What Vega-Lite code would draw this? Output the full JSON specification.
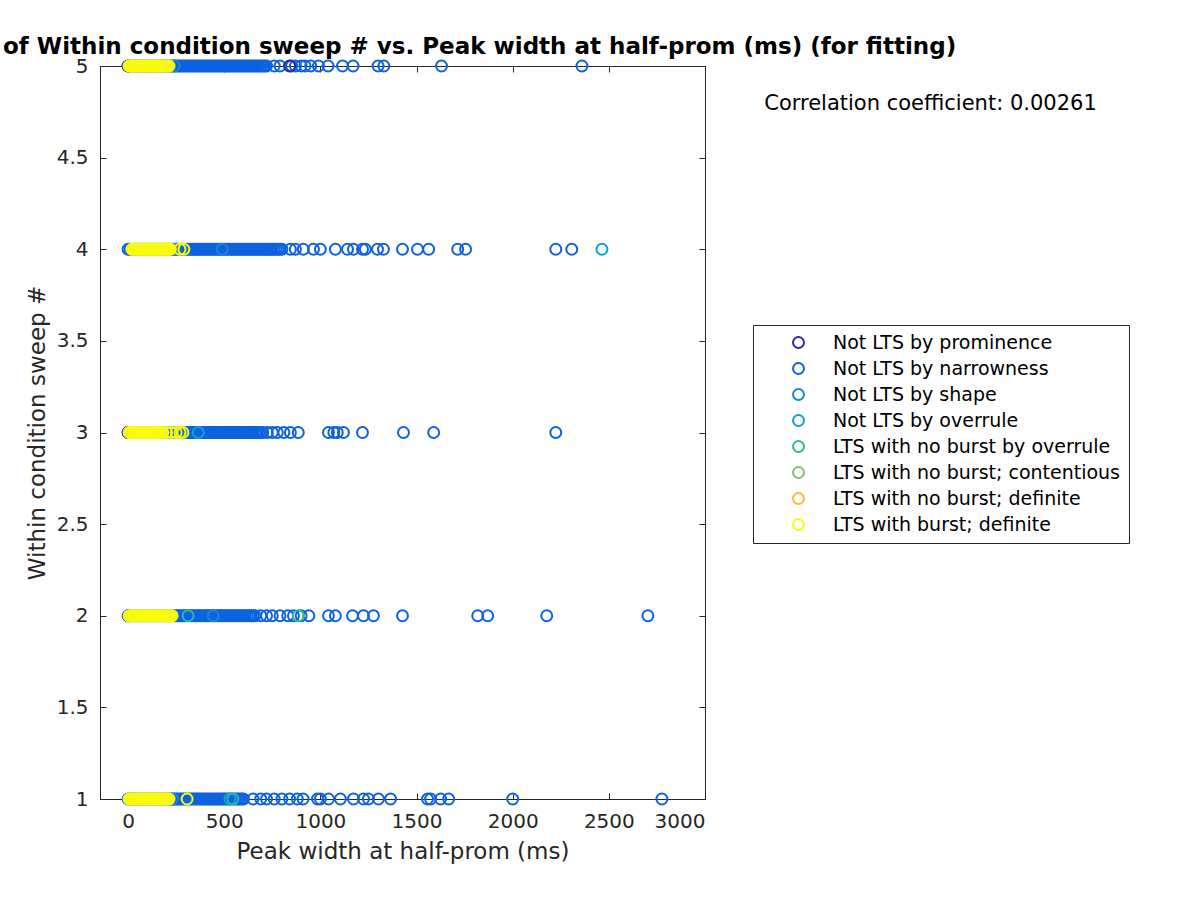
{
  "$schema": "https://vega.github.io/schema/vega-lite/v6.json",
  "width": 605,
  "height": 733,
  "autosize": {"type": "none"},
  "padding": {"left": 100, "top": 66, "right": 495, "bottom": 101},
  "background": "white",
  "config": {
    "view": {"stroke": "#262626", "strokeWidth": 1},
    "font": "DejaVu Sans",
    "axis": {"grid": false, "domainColor": "#262626", "tickColor": "#262626", "labelColor": "#262626", "titleColor": "#262626", "labelFont": "DejaVu Sans", "titleFont": "DejaVu Sans", "titleFontWeight": "normal"}
  },
  "title": {"text": "of Within condition sweep # vs. Peak width at half-prom (ms) (for fitting)", "anchor": "start", "frame": "group", "dx": -97, "offset": 11, "dy": 32, "baseline": "alphabetic", "fontSize": 23, "font": "DejaVu Sans", "fontWeight": "bold", "color": "black"},
  "datasets": {
    "classes": [
      {"code": "P", "label": "Not LTS by prominence"},
      {"code": "N", "label": "Not LTS by narrowness"},
      {"code": "S", "label": "Not LTS by shape"},
      {"code": "O", "label": "Not LTS by overrule"},
      {"code": "LO", "label": "LTS with no burst by overrule"},
      {"code": "LC", "label": "LTS with no burst; contentious"},
      {"code": "LD", "label": "LTS with no burst; definite"},
      {"code": "LB", "label": "LTS with burst; definite"}
    ],
    "peaks": [
      {"width":0,"sweep":5,"type":"N"},{"width":10,"sweep":5,"type":"N"},{"width":20,"sweep":5,"type":"N"},{"width":30,"sweep":5,"type":"N"},{"width":40,"sweep":5,"type":"N"},{"width":50,"sweep":5,"type":"N"},{"width":60,"sweep":5,"type":"N"},{"width":70,"sweep":5,"type":"N"},{"width":80,"sweep":5,"type":"N"},{"width":90,"sweep":5,"type":"N"},
      {"width":100,"sweep":5,"type":"N"},{"width":110,"sweep":5,"type":"N"},{"width":120,"sweep":5,"type":"N"},{"width":130,"sweep":5,"type":"N"},{"width":140,"sweep":5,"type":"N"},{"width":150,"sweep":5,"type":"N"},{"width":160,"sweep":5,"type":"N"},{"width":170,"sweep":5,"type":"N"},{"width":180,"sweep":5,"type":"N"},{"width":190,"sweep":5,"type":"N"},
      {"width":200,"sweep":5,"type":"N"},{"width":210,"sweep":5,"type":"N"},{"width":220,"sweep":5,"type":"N"},{"width":230,"sweep":5,"type":"N"},{"width":240,"sweep":5,"type":"N"},{"width":250,"sweep":5,"type":"N"},{"width":260,"sweep":5,"type":"N"},{"width":270,"sweep":5,"type":"N"},{"width":280,"sweep":5,"type":"N"},{"width":290,"sweep":5,"type":"N"},
      {"width":300,"sweep":5,"type":"N"},{"width":310,"sweep":5,"type":"N"},{"width":320,"sweep":5,"type":"N"},{"width":330,"sweep":5,"type":"N"},{"width":340,"sweep":5,"type":"N"},{"width":350,"sweep":5,"type":"N"},{"width":360,"sweep":5,"type":"N"},{"width":370,"sweep":5,"type":"N"},{"width":380,"sweep":5,"type":"N"},{"width":390,"sweep":5,"type":"N"},
      {"width":400,"sweep":5,"type":"N"},{"width":410,"sweep":5,"type":"N"},{"width":420,"sweep":5,"type":"N"},{"width":430,"sweep":5,"type":"N"},{"width":440,"sweep":5,"type":"N"},{"width":450,"sweep":5,"type":"N"},{"width":460,"sweep":5,"type":"N"},{"width":470,"sweep":5,"type":"N"},{"width":480,"sweep":5,"type":"N"},{"width":490,"sweep":5,"type":"N"},
      {"width":500,"sweep":5,"type":"N"},{"width":510,"sweep":5,"type":"N"},{"width":520,"sweep":5,"type":"N"},{"width":530,"sweep":5,"type":"N"},{"width":540,"sweep":5,"type":"N"},{"width":550,"sweep":5,"type":"N"},{"width":560,"sweep":5,"type":"N"},{"width":570,"sweep":5,"type":"N"},{"width":580,"sweep":5,"type":"N"},{"width":590,"sweep":5,"type":"N"},
      {"width":600,"sweep":5,"type":"N"},{"width":610,"sweep":5,"type":"N"},{"width":620,"sweep":5,"type":"N"},{"width":630,"sweep":5,"type":"N"},{"width":640,"sweep":5,"type":"N"},{"width":650,"sweep":5,"type":"N"},{"width":660,"sweep":5,"type":"N"},{"width":670,"sweep":5,"type":"N"},{"width":680,"sweep":5,"type":"N"},{"width":690,"sweep":5,"type":"N"},
      {"width":700,"sweep":5,"type":"N"},{"width":710,"sweep":5,"type":"N"},{"width":720,"sweep":5,"type":"N"},
      {"width":760,"sweep":5,"type":"N"},{"width":790,"sweep":5,"type":"N"},{"width":850,"sweep":5,"type":"N"},{"width":870,"sweep":5,"type":"N"},{"width":900,"sweep":5,"type":"N"},{"width":920,"sweep":5,"type":"N"},{"width":950,"sweep":5,"type":"N"},{"width":990,"sweep":5,"type":"N"},{"width":1040,"sweep":5,"type":"N"},{"width":1115,"sweep":5,"type":"N"},{"width":1170,"sweep":5,"type":"N"},{"width":1300,"sweep":5,"type":"N"},{"width":1330,"sweep":5,"type":"N"},{"width":1630,"sweep":5,"type":"N"},{"width":2360,"sweep":5,"type":"N"},
      {"width":0,"sweep":4,"type":"N"},{"width":10,"sweep":4,"type":"N"},{"width":20,"sweep":4,"type":"N"},{"width":30,"sweep":4,"type":"N"},{"width":40,"sweep":4,"type":"N"},{"width":50,"sweep":4,"type":"N"},{"width":60,"sweep":4,"type":"N"},{"width":70,"sweep":4,"type":"N"},{"width":80,"sweep":4,"type":"N"},{"width":90,"sweep":4,"type":"N"},
      {"width":100,"sweep":4,"type":"N"},{"width":110,"sweep":4,"type":"N"},{"width":120,"sweep":4,"type":"N"},{"width":130,"sweep":4,"type":"N"},{"width":140,"sweep":4,"type":"N"},{"width":150,"sweep":4,"type":"N"},{"width":160,"sweep":4,"type":"N"},{"width":170,"sweep":4,"type":"N"},{"width":180,"sweep":4,"type":"N"},{"width":190,"sweep":4,"type":"N"},
      {"width":200,"sweep":4,"type":"N"},{"width":210,"sweep":4,"type":"N"},{"width":220,"sweep":4,"type":"N"},{"width":230,"sweep":4,"type":"N"},{"width":240,"sweep":4,"type":"N"},{"width":250,"sweep":4,"type":"N"},{"width":260,"sweep":4,"type":"N"},{"width":270,"sweep":4,"type":"N"},{"width":280,"sweep":4,"type":"N"},{"width":290,"sweep":4,"type":"N"},
      {"width":300,"sweep":4,"type":"N"},{"width":310,"sweep":4,"type":"N"},{"width":320,"sweep":4,"type":"N"},{"width":330,"sweep":4,"type":"N"},{"width":340,"sweep":4,"type":"N"},{"width":350,"sweep":4,"type":"N"},{"width":360,"sweep":4,"type":"N"},{"width":370,"sweep":4,"type":"N"},{"width":380,"sweep":4,"type":"N"},{"width":390,"sweep":4,"type":"N"},
      {"width":400,"sweep":4,"type":"N"},{"width":410,"sweep":4,"type":"N"},{"width":420,"sweep":4,"type":"N"},{"width":430,"sweep":4,"type":"N"},{"width":440,"sweep":4,"type":"N"},{"width":450,"sweep":4,"type":"N"},{"width":460,"sweep":4,"type":"N"},{"width":470,"sweep":4,"type":"N"},{"width":480,"sweep":4,"type":"N"},{"width":490,"sweep":4,"type":"N"},
      {"width":500,"sweep":4,"type":"N"},{"width":510,"sweep":4,"type":"N"},{"width":520,"sweep":4,"type":"N"},{"width":530,"sweep":4,"type":"N"},{"width":540,"sweep":4,"type":"N"},{"width":550,"sweep":4,"type":"N"},{"width":560,"sweep":4,"type":"N"},{"width":570,"sweep":4,"type":"N"},{"width":580,"sweep":4,"type":"N"},{"width":590,"sweep":4,"type":"N"},
      {"width":600,"sweep":4,"type":"N"},{"width":610,"sweep":4,"type":"N"},{"width":620,"sweep":4,"type":"N"},{"width":630,"sweep":4,"type":"N"},{"width":640,"sweep":4,"type":"N"},{"width":650,"sweep":4,"type":"N"},{"width":660,"sweep":4,"type":"N"},{"width":670,"sweep":4,"type":"N"},{"width":680,"sweep":4,"type":"N"},{"width":690,"sweep":4,"type":"N"},
      {"width":700,"sweep":4,"type":"N"},{"width":710,"sweep":4,"type":"N"},{"width":720,"sweep":4,"type":"N"},{"width":730,"sweep":4,"type":"N"},{"width":740,"sweep":4,"type":"N"},{"width":750,"sweep":4,"type":"N"},{"width":760,"sweep":4,"type":"N"},{"width":770,"sweep":4,"type":"N"},{"width":780,"sweep":4,"type":"N"},{"width":790,"sweep":4,"type":"N"},{"width":800,"sweep":4,"type":"N"},
      {"width":844,"sweep":4,"type":"N"},{"width":870,"sweep":4,"type":"N"},{"width":911,"sweep":4,"type":"N"},{"width":964,"sweep":4,"type":"N"},{"width":1000,"sweep":4,"type":"N"},{"width":1078,"sweep":4,"type":"N"},{"width":1141,"sweep":4,"type":"N"},{"width":1172,"sweep":4,"type":"N"},{"width":1219,"sweep":4,"type":"N"},{"width":1234,"sweep":4,"type":"N"},{"width":1297,"sweep":4,"type":"N"},{"width":1328,"sweep":4,"type":"N"},{"width":1427,"sweep":4,"type":"N"},{"width":1505,"sweep":4,"type":"N"},{"width":1563,"sweep":4,"type":"N"},{"width":1714,"sweep":4,"type":"N"},{"width":1755,"sweep":4,"type":"N"},{"width":2224,"sweep":4,"type":"N"},{"width":2307,"sweep":4,"type":"N"},
      {"width":0,"sweep":3,"type":"N"},{"width":10,"sweep":3,"type":"N"},{"width":20,"sweep":3,"type":"N"},{"width":30,"sweep":3,"type":"N"},{"width":40,"sweep":3,"type":"N"},{"width":50,"sweep":3,"type":"N"},{"width":60,"sweep":3,"type":"N"},{"width":70,"sweep":3,"type":"N"},{"width":80,"sweep":3,"type":"N"},{"width":90,"sweep":3,"type":"N"},
      {"width":100,"sweep":3,"type":"N"},{"width":110,"sweep":3,"type":"N"},{"width":120,"sweep":3,"type":"N"},{"width":130,"sweep":3,"type":"N"},{"width":140,"sweep":3,"type":"N"},{"width":150,"sweep":3,"type":"N"},{"width":160,"sweep":3,"type":"N"},{"width":170,"sweep":3,"type":"N"},{"width":180,"sweep":3,"type":"N"},{"width":190,"sweep":3,"type":"N"},
      {"width":200,"sweep":3,"type":"N"},{"width":210,"sweep":3,"type":"N"},{"width":220,"sweep":3,"type":"N"},{"width":230,"sweep":3,"type":"N"},{"width":240,"sweep":3,"type":"N"},{"width":250,"sweep":3,"type":"N"},{"width":260,"sweep":3,"type":"N"},{"width":270,"sweep":3,"type":"N"},{"width":280,"sweep":3,"type":"N"},{"width":290,"sweep":3,"type":"N"},
      {"width":300,"sweep":3,"type":"N"},{"width":310,"sweep":3,"type":"N"},{"width":320,"sweep":3,"type":"N"},{"width":330,"sweep":3,"type":"N"},{"width":340,"sweep":3,"type":"N"},{"width":350,"sweep":3,"type":"N"},{"width":360,"sweep":3,"type":"N"},{"width":370,"sweep":3,"type":"N"},{"width":380,"sweep":3,"type":"N"},{"width":390,"sweep":3,"type":"N"},
      {"width":400,"sweep":3,"type":"N"},{"width":410,"sweep":3,"type":"N"},{"width":420,"sweep":3,"type":"N"},{"width":430,"sweep":3,"type":"N"},{"width":440,"sweep":3,"type":"N"},{"width":450,"sweep":3,"type":"N"},{"width":460,"sweep":3,"type":"N"},{"width":470,"sweep":3,"type":"N"},{"width":480,"sweep":3,"type":"N"},{"width":490,"sweep":3,"type":"N"},
      {"width":500,"sweep":3,"type":"N"},{"width":510,"sweep":3,"type":"N"},{"width":520,"sweep":3,"type":"N"},{"width":530,"sweep":3,"type":"N"},{"width":540,"sweep":3,"type":"N"},{"width":550,"sweep":3,"type":"N"},{"width":560,"sweep":3,"type":"N"},{"width":570,"sweep":3,"type":"N"},{"width":580,"sweep":3,"type":"N"},{"width":590,"sweep":3,"type":"N"},
      {"width":600,"sweep":3,"type":"N"},{"width":610,"sweep":3,"type":"N"},{"width":620,"sweep":3,"type":"N"},{"width":630,"sweep":3,"type":"N"},{"width":640,"sweep":3,"type":"N"},{"width":650,"sweep":3,"type":"N"},{"width":660,"sweep":3,"type":"N"},{"width":670,"sweep":3,"type":"N"},{"width":680,"sweep":3,"type":"N"},{"width":690,"sweep":3,"type":"N"},{"width":700,"sweep":3,"type":"N"},
      {"width":724,"sweep":3,"type":"N"},{"width":750,"sweep":3,"type":"N"},{"width":776,"sweep":3,"type":"N"},{"width":810,"sweep":3,"type":"N"},{"width":844,"sweep":3,"type":"N"},{"width":885,"sweep":3,"type":"N"},{"width":1042,"sweep":3,"type":"N"},{"width":1070,"sweep":3,"type":"N"},{"width":1088,"sweep":3,"type":"N"},{"width":1120,"sweep":3,"type":"N"},{"width":1219,"sweep":3,"type":"N"},{"width":1432,"sweep":3,"type":"N"},{"width":1589,"sweep":3,"type":"N"},{"width":2224,"sweep":3,"type":"N"},
      {"width":0,"sweep":2,"type":"N"},{"width":10,"sweep":2,"type":"N"},{"width":20,"sweep":2,"type":"N"},{"width":30,"sweep":2,"type":"N"},{"width":40,"sweep":2,"type":"N"},{"width":50,"sweep":2,"type":"N"},{"width":60,"sweep":2,"type":"N"},{"width":70,"sweep":2,"type":"N"},{"width":80,"sweep":2,"type":"N"},{"width":90,"sweep":2,"type":"N"},
      {"width":100,"sweep":2,"type":"N"},{"width":110,"sweep":2,"type":"N"},{"width":120,"sweep":2,"type":"N"},{"width":130,"sweep":2,"type":"N"},{"width":140,"sweep":2,"type":"N"},{"width":150,"sweep":2,"type":"N"},{"width":160,"sweep":2,"type":"N"},{"width":170,"sweep":2,"type":"N"},{"width":180,"sweep":2,"type":"N"},{"width":190,"sweep":2,"type":"N"},
      {"width":200,"sweep":2,"type":"N"},{"width":210,"sweep":2,"type":"N"},{"width":220,"sweep":2,"type":"N"},{"width":230,"sweep":2,"type":"N"},{"width":240,"sweep":2,"type":"N"},{"width":250,"sweep":2,"type":"N"},{"width":260,"sweep":2,"type":"N"},{"width":270,"sweep":2,"type":"N"},{"width":280,"sweep":2,"type":"N"},{"width":290,"sweep":2,"type":"N"},
      {"width":300,"sweep":2,"type":"N"},{"width":310,"sweep":2,"type":"N"},{"width":320,"sweep":2,"type":"N"},{"width":330,"sweep":2,"type":"N"},{"width":340,"sweep":2,"type":"N"},{"width":350,"sweep":2,"type":"N"},{"width":360,"sweep":2,"type":"N"},{"width":370,"sweep":2,"type":"N"},{"width":380,"sweep":2,"type":"N"},{"width":390,"sweep":2,"type":"N"},
      {"width":400,"sweep":2,"type":"N"},{"width":410,"sweep":2,"type":"N"},{"width":420,"sweep":2,"type":"N"},{"width":430,"sweep":2,"type":"N"},{"width":440,"sweep":2,"type":"N"},{"width":450,"sweep":2,"type":"N"},{"width":460,"sweep":2,"type":"N"},{"width":470,"sweep":2,"type":"N"},{"width":480,"sweep":2,"type":"N"},{"width":490,"sweep":2,"type":"N"},
      {"width":500,"sweep":2,"type":"N"},{"width":510,"sweep":2,"type":"N"},{"width":520,"sweep":2,"type":"N"},{"width":530,"sweep":2,"type":"N"},{"width":540,"sweep":2,"type":"N"},{"width":550,"sweep":2,"type":"N"},{"width":560,"sweep":2,"type":"N"},{"width":570,"sweep":2,"type":"N"},{"width":580,"sweep":2,"type":"N"},{"width":590,"sweep":2,"type":"N"},
      {"width":600,"sweep":2,"type":"N"},{"width":610,"sweep":2,"type":"N"},{"width":620,"sweep":2,"type":"N"},{"width":630,"sweep":2,"type":"N"},{"width":640,"sweep":2,"type":"N"},{"width":650,"sweep":2,"type":"N"},{"width":660,"sweep":2,"type":"N"},
      {"width":690,"sweep":2,"type":"N"},{"width":720,"sweep":2,"type":"N"},{"width":750,"sweep":2,"type":"N"},{"width":790,"sweep":2,"type":"N"},{"width":830,"sweep":2,"type":"N"},{"width":860,"sweep":2,"type":"N"},{"width":900,"sweep":2,"type":"N"},{"width":940,"sweep":2,"type":"N"},{"width":1042,"sweep":2,"type":"N"},{"width":1078,"sweep":2,"type":"N"},{"width":1167,"sweep":2,"type":"N"},{"width":1224,"sweep":2,"type":"N"},{"width":1276,"sweep":2,"type":"N"},{"width":1427,"sweep":2,"type":"N"},{"width":1818,"sweep":2,"type":"N"},{"width":1870,"sweep":2,"type":"N"},{"width":2177,"sweep":2,"type":"N"},{"width":2703,"sweep":2,"type":"N"},
      {"width":0,"sweep":1,"type":"N"},{"width":10,"sweep":1,"type":"N"},{"width":20,"sweep":1,"type":"N"},{"width":30,"sweep":1,"type":"N"},{"width":40,"sweep":1,"type":"N"},{"width":50,"sweep":1,"type":"N"},{"width":60,"sweep":1,"type":"N"},{"width":70,"sweep":1,"type":"N"},{"width":80,"sweep":1,"type":"N"},{"width":90,"sweep":1,"type":"N"},
      {"width":100,"sweep":1,"type":"N"},{"width":110,"sweep":1,"type":"N"},{"width":120,"sweep":1,"type":"N"},{"width":130,"sweep":1,"type":"N"},{"width":140,"sweep":1,"type":"N"},{"width":150,"sweep":1,"type":"N"},{"width":160,"sweep":1,"type":"N"},{"width":170,"sweep":1,"type":"N"},{"width":180,"sweep":1,"type":"N"},{"width":190,"sweep":1,"type":"N"},
      {"width":200,"sweep":1,"type":"N"},{"width":210,"sweep":1,"type":"N"},{"width":220,"sweep":1,"type":"N"},{"width":230,"sweep":1,"type":"N"},{"width":240,"sweep":1,"type":"N"},{"width":250,"sweep":1,"type":"N"},{"width":260,"sweep":1,"type":"N"},{"width":270,"sweep":1,"type":"N"},{"width":280,"sweep":1,"type":"N"},{"width":290,"sweep":1,"type":"N"},
      {"width":300,"sweep":1,"type":"N"},{"width":310,"sweep":1,"type":"N"},{"width":320,"sweep":1,"type":"N"},{"width":330,"sweep":1,"type":"N"},{"width":340,"sweep":1,"type":"N"},{"width":350,"sweep":1,"type":"N"},{"width":360,"sweep":1,"type":"N"},{"width":370,"sweep":1,"type":"N"},{"width":380,"sweep":1,"type":"N"},{"width":390,"sweep":1,"type":"N"},
      {"width":400,"sweep":1,"type":"N"},{"width":410,"sweep":1,"type":"N"},{"width":420,"sweep":1,"type":"N"},{"width":430,"sweep":1,"type":"N"},{"width":440,"sweep":1,"type":"N"},{"width":450,"sweep":1,"type":"N"},{"width":460,"sweep":1,"type":"N"},{"width":470,"sweep":1,"type":"N"},{"width":480,"sweep":1,"type":"N"},{"width":490,"sweep":1,"type":"N"},
      {"width":500,"sweep":1,"type":"N"},{"width":510,"sweep":1,"type":"N"},{"width":520,"sweep":1,"type":"N"},{"width":530,"sweep":1,"type":"N"},{"width":540,"sweep":1,"type":"N"},{"width":550,"sweep":1,"type":"N"},{"width":560,"sweep":1,"type":"N"},{"width":570,"sweep":1,"type":"N"},{"width":580,"sweep":1,"type":"N"},{"width":590,"sweep":1,"type":"N"},{"width":600,"sweep":1,"type":"N"},
      {"width":650,"sweep":1,"type":"N"},{"width":690,"sweep":1,"type":"N"},{"width":720,"sweep":1,"type":"N"},{"width":760,"sweep":1,"type":"N"},{"width":800,"sweep":1,"type":"N"},{"width":840,"sweep":1,"type":"N"},{"width":880,"sweep":1,"type":"N"},{"width":910,"sweep":1,"type":"N"},{"width":985,"sweep":1,"type":"N"},{"width":1000,"sweep":1,"type":"N"},{"width":1042,"sweep":1,"type":"N"},{"width":1104,"sweep":1,"type":"N"},{"width":1172,"sweep":1,"type":"N"},{"width":1224,"sweep":1,"type":"N"},{"width":1250,"sweep":1,"type":"N"},{"width":1302,"sweep":1,"type":"N"},{"width":1365,"sweep":1,"type":"N"},{"width":1557,"sweep":1,"type":"N"},{"width":1573,"sweep":1,"type":"N"},{"width":1625,"sweep":1,"type":"N"},{"width":1667,"sweep":1,"type":"N"},{"width":2000,"sweep":1,"type":"N"},{"width":2776,"sweep":1,"type":"N"},
      {"width":0,"sweep":5,"type":"P"},{"width":840,"sweep":5,"type":"P"},{"width":0,"sweep":3,"type":"P"},{"width":3,"sweep":2,"type":"P"},
      {"width":190,"sweep":5,"type":"S"},{"width":240,"sweep":5,"type":"S"},{"width":490,"sweep":4,"type":"S"},{"width":240,"sweep":4,"type":"S"},{"width":225,"sweep":3,"type":"S"},{"width":250,"sweep":3,"type":"S"},{"width":270,"sweep":3,"type":"S"},{"width":443,"sweep":2,"type":"S"},{"width":230,"sweep":1,"type":"S"},
      {"width":2464,"sweep":4,"type":"O"},{"width":365,"sweep":3,"type":"O"},{"width":530,"sweep":1,"type":"O"},
      {"width":312,"sweep":2,"type":"LO"},{"width":885,"sweep":2,"type":"LO"},{"width":545,"sweep":1,"type":"LO"},
      {"width":5,"sweep":5,"type":"LB"},{"width":13,"sweep":5,"type":"LB"},{"width":21,"sweep":5,"type":"LB"},{"width":29,"sweep":5,"type":"LB"},{"width":37,"sweep":5,"type":"LB"},{"width":45,"sweep":5,"type":"LB"},{"width":53,"sweep":5,"type":"LB"},{"width":61,"sweep":5,"type":"LB"},{"width":69,"sweep":5,"type":"LB"},{"width":77,"sweep":5,"type":"LB"},{"width":85,"sweep":5,"type":"LB"},{"width":93,"sweep":5,"type":"LB"},{"width":101,"sweep":5,"type":"LB"},{"width":109,"sweep":5,"type":"LB"},{"width":117,"sweep":5,"type":"LB"},{"width":125,"sweep":5,"type":"LB"},{"width":133,"sweep":5,"type":"LB"},{"width":141,"sweep":5,"type":"LB"},{"width":149,"sweep":5,"type":"LB"},{"width":157,"sweep":5,"type":"LB"},{"width":165,"sweep":5,"type":"LB"},{"width":173,"sweep":5,"type":"LB"},{"width":181,"sweep":5,"type":"LB"},{"width":189,"sweep":5,"type":"LB"},{"width":197,"sweep":5,"type":"LB"},{"width":205,"sweep":5,"type":"LB"},{"width":213,"sweep":5,"type":"LB"},
      {"width":20,"sweep":4,"type":"LB"},{"width":28,"sweep":4,"type":"LB"},{"width":36,"sweep":4,"type":"LB"},{"width":44,"sweep":4,"type":"LB"},{"width":52,"sweep":4,"type":"LB"},{"width":60,"sweep":4,"type":"LB"},{"width":68,"sweep":4,"type":"LB"},{"width":76,"sweep":4,"type":"LB"},{"width":84,"sweep":4,"type":"LB"},{"width":92,"sweep":4,"type":"LB"},{"width":100,"sweep":4,"type":"LB"},{"width":108,"sweep":4,"type":"LB"},{"width":116,"sweep":4,"type":"LB"},{"width":124,"sweep":4,"type":"LB"},{"width":132,"sweep":4,"type":"LB"},{"width":140,"sweep":4,"type":"LB"},{"width":148,"sweep":4,"type":"LB"},{"width":156,"sweep":4,"type":"LB"},{"width":164,"sweep":4,"type":"LB"},{"width":172,"sweep":4,"type":"LB"},{"width":180,"sweep":4,"type":"LB"},{"width":188,"sweep":4,"type":"LB"},{"width":196,"sweep":4,"type":"LB"},{"width":204,"sweep":4,"type":"LB"},{"width":212,"sweep":4,"type":"LB"},{"width":220,"sweep":4,"type":"LB"},{"width":270,"sweep":4,"type":"LB"},{"width":290,"sweep":4,"type":"LB"},
      {"width":5,"sweep":3,"type":"LB"},{"width":13,"sweep":3,"type":"LB"},{"width":21,"sweep":3,"type":"LB"},{"width":29,"sweep":3,"type":"LB"},{"width":37,"sweep":3,"type":"LB"},{"width":45,"sweep":3,"type":"LB"},{"width":53,"sweep":3,"type":"LB"},{"width":61,"sweep":3,"type":"LB"},{"width":69,"sweep":3,"type":"LB"},{"width":77,"sweep":3,"type":"LB"},{"width":85,"sweep":3,"type":"LB"},{"width":93,"sweep":3,"type":"LB"},{"width":101,"sweep":3,"type":"LB"},{"width":109,"sweep":3,"type":"LB"},{"width":117,"sweep":3,"type":"LB"},{"width":125,"sweep":3,"type":"LB"},{"width":133,"sweep":3,"type":"LB"},{"width":141,"sweep":3,"type":"LB"},{"width":149,"sweep":3,"type":"LB"},{"width":157,"sweep":3,"type":"LB"},{"width":165,"sweep":3,"type":"LB"},{"width":173,"sweep":3,"type":"LB"},{"width":181,"sweep":3,"type":"LB"},{"width":200,"sweep":3,"type":"LB"},{"width":225,"sweep":3,"type":"LB"},{"width":250,"sweep":3,"type":"LB"},{"width":270,"sweep":3,"type":"LB"},{"width":285,"sweep":3,"type":"LB"},
      {"width":5,"sweep":2,"type":"LB"},{"width":13,"sweep":2,"type":"LB"},{"width":21,"sweep":2,"type":"LB"},{"width":29,"sweep":2,"type":"LB"},{"width":37,"sweep":2,"type":"LB"},{"width":45,"sweep":2,"type":"LB"},{"width":53,"sweep":2,"type":"LB"},{"width":61,"sweep":2,"type":"LB"},{"width":69,"sweep":2,"type":"LB"},{"width":77,"sweep":2,"type":"LB"},{"width":85,"sweep":2,"type":"LB"},{"width":93,"sweep":2,"type":"LB"},{"width":101,"sweep":2,"type":"LB"},{"width":109,"sweep":2,"type":"LB"},{"width":117,"sweep":2,"type":"LB"},{"width":125,"sweep":2,"type":"LB"},{"width":133,"sweep":2,"type":"LB"},{"width":141,"sweep":2,"type":"LB"},{"width":149,"sweep":2,"type":"LB"},{"width":157,"sweep":2,"type":"LB"},{"width":165,"sweep":2,"type":"LB"},{"width":173,"sweep":2,"type":"LB"},{"width":181,"sweep":2,"type":"LB"},{"width":189,"sweep":2,"type":"LB"},{"width":197,"sweep":2,"type":"LB"},{"width":205,"sweep":2,"type":"LB"},{"width":213,"sweep":2,"type":"LB"},{"width":221,"sweep":2,"type":"LB"},{"width":229,"sweep":2,"type":"LB"},
      {"width":5,"sweep":1,"type":"LB"},{"width":13,"sweep":1,"type":"LB"},{"width":21,"sweep":1,"type":"LB"},{"width":29,"sweep":1,"type":"LB"},{"width":37,"sweep":1,"type":"LB"},{"width":45,"sweep":1,"type":"LB"},{"width":53,"sweep":1,"type":"LB"},{"width":61,"sweep":1,"type":"LB"},{"width":69,"sweep":1,"type":"LB"},{"width":77,"sweep":1,"type":"LB"},{"width":85,"sweep":1,"type":"LB"},{"width":93,"sweep":1,"type":"LB"},{"width":101,"sweep":1,"type":"LB"},{"width":109,"sweep":1,"type":"LB"},{"width":117,"sweep":1,"type":"LB"},{"width":125,"sweep":1,"type":"LB"},{"width":133,"sweep":1,"type":"LB"},{"width":141,"sweep":1,"type":"LB"},{"width":149,"sweep":1,"type":"LB"},{"width":157,"sweep":1,"type":"LB"},{"width":165,"sweep":1,"type":"LB"},{"width":173,"sweep":1,"type":"LB"},{"width":181,"sweep":1,"type":"LB"},{"width":189,"sweep":1,"type":"LB"},{"width":197,"sweep":1,"type":"LB"},{"width":205,"sweep":1,"type":"LB"},{"width":213,"sweep":1,"type":"LB"},{"width":307,"sweep":1,"type":"LB"}
    ]
  },
  "layer": [
    {
      "data": {"name": "peaks"},
      "transform": [{"lookup": "type", "from": {"data": {"name": "classes"}, "key": "code", "fields": ["label"]}}],
      "mark": {"type": "point", "shape": "circle", "filled": false, "size": 120, "strokeWidth": 2, "opacity": 1},
      "encoding": {
        "x": {"field": "width", "type": "quantitative", "scale": {"domain": [-146, 3000], "nice": false, "zero": false},
              "axis": {"orient": "bottom", "values": [0, 500, 1000, 1500, 2000, 2500, 3000], "format": "d", "title": "Peak width at half-prom (ms)", "labelFontSize": 20, "titleFontSize": 23, "tickSize": -6, "labelPadding": 18, "titlePadding": 9}},
        "y": {"field": "sweep", "type": "quantitative", "scale": {"domain": [1, 5], "nice": false, "zero": false},
              "axis": {"orient": "left", "values": [1, 1.5, 2, 2.5, 3, 3.5, 4, 4.5, 5], "format": "~r", "title": "Within condition sweep #", "labelFontSize": 20, "titleFontSize": 23, "tickSize": -6, "labelPadding": 18, "titlePadding": 7}},
        "color": {"field": "label", "type": "nominal",
          "scale": {"domain": ["Not LTS by prominence", "Not LTS by narrowness", "Not LTS by shape", "Not LTS by overrule", "LTS with no burst by overrule", "LTS with no burst; contentious", "LTS with no burst; definite", "LTS with burst; definite"],
                    "range": ["#352a87", "#0d62df", "#1a86d6", "#0aa6c9", "#2fb7a2", "#86be76", "#f7ba3c", "#f9fb0e"]},
          "legend": {"title": null, "orient": "none", "legendX": 653, "legendY": 259, "strokeColor": "#262626", "fillColor": "white", "padding": 8, "symbolType": "circle", "symbolSize": 120, "symbolStrokeWidth": 2, "symbolFillColor": "transparent", "symbolOffset": 28, "labelOffset": 25, "labelFontSize": 19, "labelFont": "DejaVu Sans", "labelColor": "black", "rowPadding": 6, "labelLimit": 400}}
      }
    },
    {
      "data": {"name": "peaks"},
      "mark": {"type": "point", "opacity": 0},
      "encoding": {
        "x": {"field": "width", "type": "quantitative", "scale": {"domain": [-146, 3000], "nice": false, "zero": false},
              "axis": {"orient": "top", "values": [0, 500, 1000, 1500, 2000, 2500, 3000], "labels": false, "title": null, "tickSize": -6}},
        "y": {"field": "sweep", "type": "quantitative", "scale": {"domain": [1, 5], "nice": false, "zero": false},
              "axis": {"orient": "right", "values": [1, 1.5, 2, 2.5, 3, 3.5, 4, 4.5, 5], "labels": false, "title": null, "tickSize": -6}}
      }
    },
    {
      "data": {"values": [{"label": "Correlation coefficient: 0.00261"}]},
      "mark": {"type": "text", "align": "left", "baseline": "middle", "fontSize": 21, "font": "DejaVu Sans", "color": "black"},
      "encoding": {
        "x": {"datum": 3308, "type": "quantitative", "scale": {"domain": [-146, 3000], "nice": false, "zero": false}, "axis": null},
        "y": {"datum": 4.793, "type": "quantitative", "scale": {"domain": [1, 5], "nice": false, "zero": false}, "axis": null},
        "text": {"field": "label"}
      }
    }
  ],
  "resolve": {"axis": {"x": "independent", "y": "independent"}}
}
